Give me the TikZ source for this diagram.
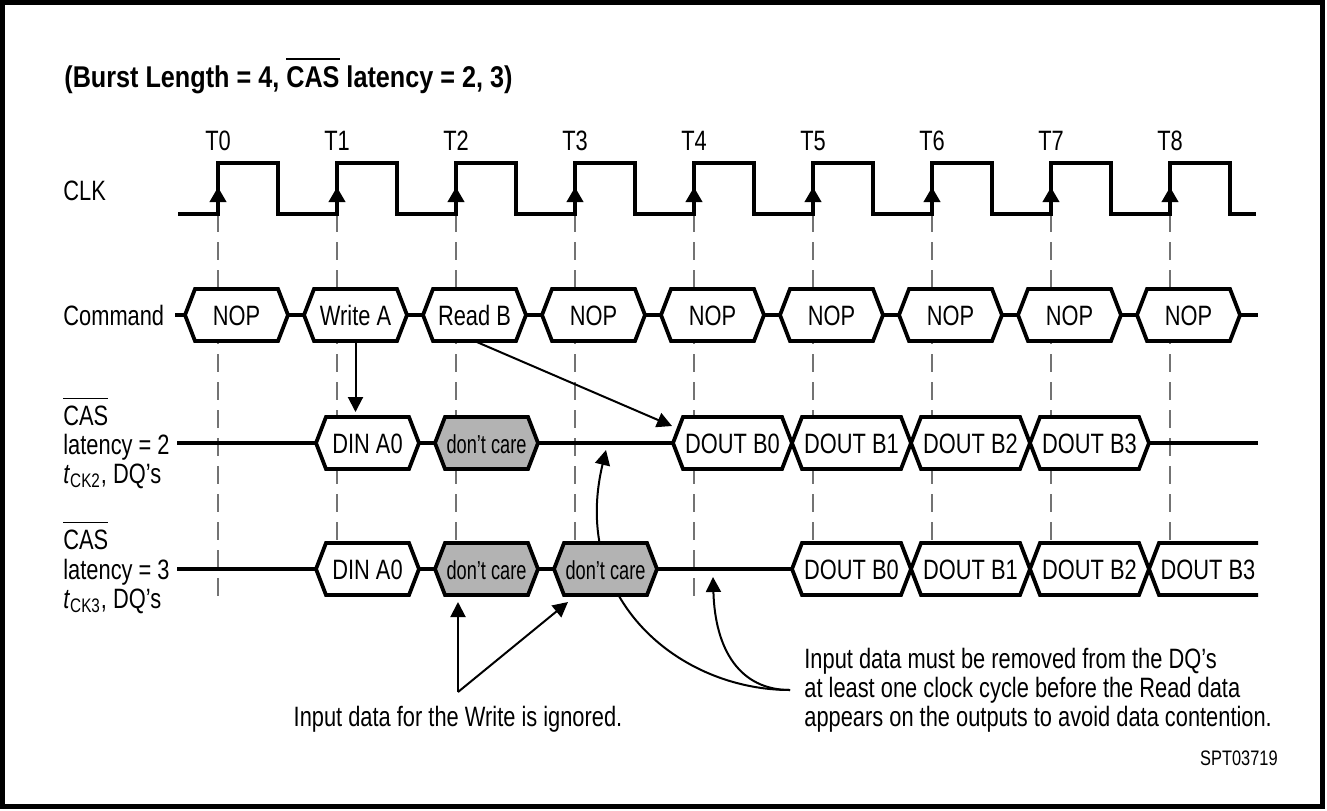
\documentclass[tikz,border=0pt]{standalone}
\usepackage{fontspec}
\setmainfont{Liberation Sans}[FakeStretch=0.78]
\newfontfamily\titlefont{Liberation Sans}[FakeStretch=0.84]
\newfontfamily\dcfont{Liberation Sans}[FakeStretch=0.70]
\usetikzlibrary{arrows.meta,calc}

\definecolor{dcgray}{RGB}{179,179,179}

% overlined signal name
\newcommand{\ovl}[2][0.6pt]{\leavevmode\vbox{\hrule height #1\kern 3pt\hbox{#2}}}
\newcommand{\dc}{{\dcfont\fontsize{13}{15}\selectfont don’t care}}

% hexagon: [fill]{name}{left point}{right point}{mid y}{text}
\newcommand{\hexsig}[6][white]{%
  \draw[hex,fill=#1] (#3,#5) -- (#3+\hsl,#5-\hh) -- (#4-\hsl,#5-\hh) -- (#4,#5)
    -- (#4-\hsl,#5+\hh) -- (#3+\hsl,#5+\hh) -- cycle;
  \coordinate (#2-t) at ({(#3+#4)/2},#5-\hh);
  \coordinate (#2-b) at ({(#3+#4)/2},#5+\hh);
  \node[val,anchor=base] (#2) at ({(#3+#4)/2},#5+10) {#6};}

\begin{document}
\begin{tikzpicture}[x=0.5pt,y=-0.5pt]
  \tikzstyle{frame}=[draw=black, line width=2.4pt]
  \tikzstyle{lbl}=[font=\fontsize{14}{16}\selectfont, inner sep=0pt]
  \tikzstyle{val}=[font=\fontsize{14}{16}\selectfont, inner sep=0pt]
  \tikzstyle{hex}=[draw=black, line width=1.9pt, line join=miter]
  \tikzstyle{wave}=[draw=black, line width=1.7pt]
  \tikzstyle{clk}=[draw=black, line width=1.9pt, line join=miter]
  \tikzstyle{edge}=[draw=black, line width=1.9pt, -{Triangle[length=7.5pt,width=8pt]}]
  \tikzstyle{grid}=[draw=black!55, line width=0.6pt, dash pattern=on 9pt off 5pt]
  \tikzstyle{note}=[draw=black, line width=1pt, -{Triangle[length=7.5pt,width=7.5pt]}]
  \def\hh{26}
  \def\hsl{10}
  \def\tper{119}

  \useasboundingbox (0,0) rectangle (1327,810);
  \draw[frame] (2.5,2.5) rectangle (1322.5,806.5);

  \node[anchor=base west, inner sep=0pt, font=\titlefont\bfseries\fontsize{15}{17}\selectfont]
    (title) at (64,87) {(Burst Length = 4, \ovl[0.9pt]{CAS} latency = 2, 3)};

  % clock
  \foreach \k in {0,...,8}
    \coordinate (T\k) at ({218+\tper*\k},214);
  \foreach \k in {0,...,8} {
    \node[lbl,anchor=base] (lT\k) at ($(T\k)+(0,-64)$) {T\k};
    \draw[grid] (T\k) -- ++(0,383);
  }
  \node[lbl,anchor=base west] (clk) at (63,200) {CLK};
  \draw[clk] (178,214) foreach \k in {0,...,8} { -- (T\k) -- ++(0,-51) -- ++(60,0) -- ++(0,51) } -- (1256,214);
  \foreach \k in {0,...,8}
    \draw[edge] (T\k) -- ++(0,-27);

  % command
  \node[lbl,anchor=base west] (cmd) at (63,325) {Command};
  \draw[wave] (175,315) -- (1258,315);
  \foreach \k/\txt in {0/NOP,1/Write A,2/Read B,3/NOP,4/NOP,5/NOP,6/NOP,7/NOP,8/NOP} {
    \hexsig{c\k}{185+\tper*\k}{288+\tper*\k}{315}{\txt}
  }

  % CAS latency = 2
  \node[lbl,anchor=base west] (cas2a) at (63,425) {\ovl{CAS}};
  \node[lbl,anchor=base west] (cas2b) at (63,454) {latency = 2};
  \node[lbl,anchor=base west] (cas2c) at (63,483) {\textit{t}\textsubscript{CK2}, DQ’s};
  \draw[wave] (177,443) -- (1258,443);
  \hexsig{d2a}{316}{419}{443}{DIN A0}
  \hexsig[dcgray]{d2b}{435}{538}{443}{\dc}
  \foreach \k in {0,...,3} {
    \hexsig{o2\k}{673+\tper*\k}{792+\tper*\k}{443}{DOUT B\k}
  }

  % notes
  \coordinate (rdB) at (672,426);
  \coordinate (J) at (790,690);
  \coordinate (tipA) at (606,450);
  \coordinate (tipB) at (713,577);
  \coordinate (V) at (458,692);
  \coordinate (tipC) at (458,602);
  \coordinate (tipD) at (568,602);
  \draw[note,shorten >=2.5pt] (c1-b) -- (c1-b |- d2a-t);
  \draw[note] (c2-b) -- (rdB);
  \draw[note] (J) .. controls (680,690) and (570,600) .. (tipA);
  \draw[note] (J) .. controls (740,690) and (715,650) .. (tipB);
  \draw[note] (V) -- (tipC);
  \draw[note] (V) -- (tipD);

  % CAS latency = 3
  \node[lbl,anchor=base west] (cas3a) at (63,549) {\ovl{CAS}};
  \node[lbl,anchor=base west] (cas3b) at (63,579) {latency = 3};
  \node[lbl,anchor=base west] (cas3c) at (63,608) {\textit{t}\textsubscript{CK3}, DQ’s};
  \draw[wave] (177,569) -- (1258,569);
  \hexsig{d3a}{316}{419}{569}{DIN A0}
  \hexsig[dcgray]{d3b}{435}{538}{569}{\dc}
  \hexsig[dcgray]{d3c}{554}{657}{569}{\dc}
  \foreach \k in {0,...,2} {
    \hexsig{o3\k}{792+\tper*\k}{911+\tper*\k}{569}{DOUT B\k}
  }
  \draw[hex,fill=white] (1258,543) -- (1159,543) -- (1149,569) -- (1159,595) -- (1258,595);
  \node[val,anchor=base] (o33) at (1208,579) {DOUT B3};

  % texts
  \node[lbl,anchor=base] (ign) at (458,726) {Input data for the Write is ignored.};
  \node[lbl,anchor=base west] (rm1) at (804,668) {Input data must be removed from the DQ’s};
  \node[lbl,anchor=base west] (rm2) at (804,697) {at least one clock cycle before the Read data};
  \node[lbl,anchor=base west] (rm3) at (804,726) {appears on the outputs to avoid data contention.};
  \node[anchor=base east, inner sep=0pt, font=\fontsize{10.5}{12}\selectfont] (fig) at (1278,765) {SPT03719};
\end{tikzpicture}
\end{document}
